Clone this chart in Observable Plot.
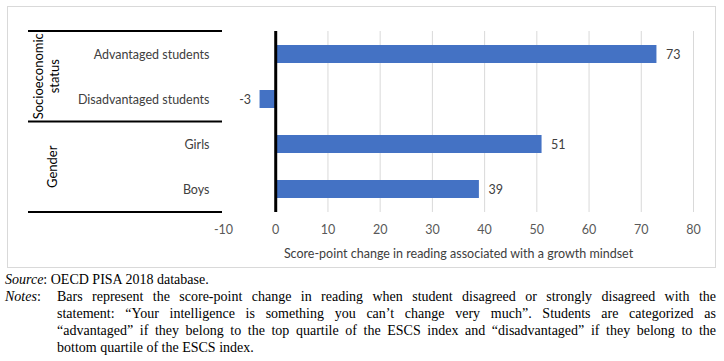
<!DOCTYPE html>
<html><head><meta charset="utf-8">
<script src="https://cdn.jsdelivr.net/npm/d3@7"></script>
<script src="https://cdn.jsdelivr.net/npm/@observablehq/plot@0.6"></script>
<style>
body{margin:0;background:#fff;}
#box{position:absolute;left:7px;top:6px;width:707px;height:260px;border:1px solid #d9d9d9;}
#notes{position:absolute;left:5px;top:271px;width:711px;font-family:"Liberation Serif",serif;font-size:14px;line-height:17px;color:#000;}
.row{display:flex}
.lab{width:52px;flex:none}
.body{flex:1}
.ln{white-space:nowrap;text-align:justify;text-align-last:justify}
.ln.last{text-align-last:left}
</style></head><body>
<div id="box"></div>
<div id="notes">
<div class="row"><div><i>Source</i>: OECD PISA 2018 database.</div></div>
<div class="row"><div class="lab"><i>Notes</i>:</div><div class="body" id="notesBody"></div></div>
</div>
<script>
const categories = ["Advantaged students", "Disadvantaged students", "Girls", "Boys"];
const values = [73, -3, 51, 39];
const groups = ["Socioeconomic status", "Gender"];
const groupOf = ["Socioeconomic status", "Socioeconomic status", "Gender", "Gender"];
const groupLabelLines = [["Socioeconomic", "status"], ["Gender"]];
const xTicks = [-10, 0, 10, 20, 30, 40, 50, 60, 70, 80];
const xTitle = "Score-point change in reading associated with a growth mindset";
const noteLines = [
  "Bars represent the score-point change in reading when student disagreed or strongly disagreed with the",
  "statement: “Your intelligence is something you can’t change very much”. Students are categorized as",
  "“advantaged” if they belong to the top quartile of the ESCS index and “disadvantaged” if they belong to the",
  "bottom quartile of the ESCS index."
];

const nb = document.getElementById("notesBody");
noteLines.forEach((t, i) => {
  const d = document.createElement("div");
  d.className = "ln" + (i === noteLines.length - 1 ? " last" : "");
  d.textContent = t;
  nb.appendChild(d);
});

const data = categories.map((c, i) => ({category: c, value: values[i], group: groupOf[i]}));
const FONT = "Lato";

function tableMark(index, scales, vals, dims) {
  const g = d3.create("svg:g");
  const top = dims.marginTop, bottom = dims.height - dims.marginBottom;
  const step = (bottom - top) / categories.length;
  const x1 = 20, x2 = dims.marginLeft - 1;
  const bounds = [top];
  for (let i = 1; i < categories.length; i++) if (groupOf[i] !== groupOf[i - 1]) bounds.push(top + i * step);
  bounds.push(bottom);
  for (const b of bounds) {
    g.append("line").attr("x1", x1).attr("x2", x2).attr("y1", b).attr("y2", b)
      .attr("stroke", "#000").attr("stroke-width", 2.2);
  }
  groups.forEach((gr, gi) => {
    const idx = groupOf.map((d, i) => d === gr ? i : -1).filter(i => i >= 0);
    const cy = top + (d3.min(idx) + d3.max(idx) + 1) / 2 * step;
    const lines = groupLabelLines[gi];
    const xs = lines.length === 2 ? [30, 46] : [44];
    lines.forEach((ln, li) => {
      g.append("text").attr("transform", `translate(${xs[li]},${cy}) rotate(-90)`)
        .attr("text-anchor", "middle").attr("dominant-baseline", "central")
        .attr("font-family", FONT).attr("font-size", 13).attr("fill", "#000").text(ln);
    });
  });
  return g.node();
}

const chart = Plot.plot({
  width: 707, height: 260,
  marginLeft: 215, marginRight: 22, marginTop: 24, marginBottom: 55,
  style: {fontFamily: FONT, fontSize: "12.5px", background: "transparent", overflow: "visible"},
  x: {domain: [-10, 80]},
  y: {domain: categories, paddingInner: 0.6, paddingOuter: 0.3},
  marks: [
    Plot.ruleX(xTicks.filter(d => d > 0), {stroke: "#d9d9d9", strokeWidth: 1}),
    Plot.barX(data, {x: "value", y: "category", fill: "#4472C4"}),
    Plot.ruleX([0], {stroke: "#000", strokeWidth: 3}),
    Plot.text(data.filter(d => d.value >= 0), {x: "value", y: "category", text: d => String(d.value), textAnchor: "start", dx: 9, fill: "#404040"}),
    Plot.text(data.filter(d => d.value < 0), {x: "value", y: "category", text: d => String(d.value), textAnchor: "end", dx: -9, fill: "#404040"}),
    Plot.axisX({ticks: xTicks, tickFormat: d => String(d), tickSize: 0, tickPadding: 13, label: null, color: "#595959"}),
    Plot.axisY({tickSize: 0, tickPadding: 14, label: null, color: "#404040"}),
    Plot.text([xTitle], {frameAnchor: "bottom", dy: 45, fill: "#404040"}),
    tableMark
  ]
});
document.getElementById("box").appendChild(chart);
</script>
</body></html>
